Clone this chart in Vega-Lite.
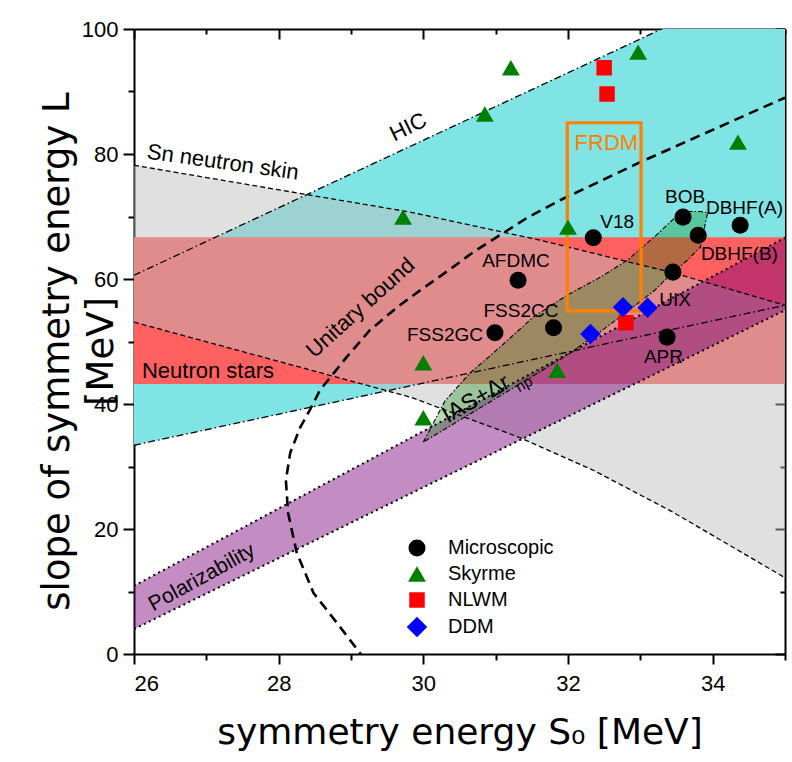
{
  "$schema": "https://vega.github.io/schema/vega-lite/v6.json",
  "width": 651,
  "height": 625,
  "autosize": {"type": "none"},
  "padding": {"left": 134, "top": 29, "right": 7, "bottom": 108},
  "background": "white",
  "config": {
    "view": {"stroke": null},
    "font": "Liberation Sans",
    "axis": {"domainColor": "black", "tickColor": "black", "domainWidth": 2, "tickWidth": 2, "grid": false, "labelFont": "Liberation Sans", "labelFontSize": 22, "labelColor": "black"}
  },
  "datasets": {
    "hic": [{"S": 26, "lo": 33.4, "hi": 60.6}, {"S": 35, "lo": 55.8, "hi": 109.2}],
    "ns": [{"S": 26, "lo": 43.2, "hi": 66.7}, {"S": 35, "lo": 43.2, "hi": 66.7}],
    "sn": [
      {"S": 26, "lo": 53.1, "hi": 78.2}, {"S": 29.82, "lo": 41.1, "hi": 70.7}, {"S": 31.34, "lo": 34.6, "hi": 66.9},
      {"S": 31.62, "lo": 33.2, "hi": 66.2}, {"S": 32.35, "lo": 29.4, "hi": 64.2}, {"S": 33.45, "lo": 22.7, "hi": 61.0},
      {"S": 35, "lo": 12.2, "hi": 55.8}
    ],
    "pol": [{"S": 26, "lo": 4.0, "hi": 10.9}, {"S": 35, "lo": 55.0, "hi": 66.6}],
    "ias": [
      {"S": 30.0, "lo": 33.9, "hi": 33.9}, {"S": 30.3, "lo": 36.0, "hi": 40.5}, {"S": 30.65, "lo": 38.45, "hi": 45.0},
      {"S": 31.06, "lo": 41.3, "hi": 49.1}, {"S": 31.52, "lo": 44.5, "hi": 53.9}, {"S": 32.0, "lo": 47.9, "hi": 57.5},
      {"S": 32.45, "lo": 51.6, "hi": 60.3}, {"S": 32.82, "lo": 54.8, "hi": 63.0}, {"S": 33.2, "lo": 58.2, "hi": 66.8},
      {"S": 33.45, "lo": 61.1, "hi": 69.5}, {"S": 33.55, "lo": 62.0, "hi": 70.6}, {"S": 33.65, "lo": 63.0, "hi": 70.8},
      {"S": 33.83, "lo": 65.1, "hi": 70.8}, {"S": 33.93, "lo": 70.6, "hi": 70.6}
    ],
    "frdm": [{"S1": 31.99, "S2": 33.01, "L1": 54.9, "L2": 85.0}],
    "lines": [
      {"line": "HIC_up", "o": 1, "S": 26, "L": 60.6}, {"line": "HIC_up", "o": 2, "S": 35, "L": 109.2},
      {"line": "HIC_lo", "o": 1, "S": 26, "L": 33.4}, {"line": "HIC_lo", "o": 2, "S": 35, "L": 55.8},
      {"line": "Sn_up", "o": 1, "S": 26, "L": 78.2}, {"line": "Sn_up", "o": 2, "S": 29.82, "L": 70.7}, {"line": "Sn_up", "o": 3, "S": 31.62, "L": 66.2},
      {"line": "Sn_up", "o": 4, "S": 33.45, "L": 61.0}, {"line": "Sn_up", "o": 5, "S": 35, "L": 55.8},
      {"line": "Sn_lo", "o": 1, "S": 26, "L": 53.1}, {"line": "Sn_lo", "o": 2, "S": 29.82, "L": 41.1}, {"line": "Sn_lo", "o": 3, "S": 31.34, "L": 34.6},
      {"line": "Sn_lo", "o": 4, "S": 32.35, "L": 29.4}, {"line": "Sn_lo", "o": 5, "S": 33.45, "L": 22.7}, {"line": "Sn_lo", "o": 6, "S": 35, "L": 12.2},
      {"line": "Pol_up", "o": 1, "S": 26, "L": 10.9}, {"line": "Pol_up", "o": 2, "S": 35, "L": 66.6},
      {"line": "Pol_lo", "o": 1, "S": 26, "L": 4.0}, {"line": "Pol_lo", "o": 2, "S": 35, "L": 55.0},
      {"line": "Unitary", "o": 1, "S": 29.2, "L": -1}, {"line": "Unitary", "o": 2, "S": 28.85, "L": 4.3}, {"line": "Unitary", "o": 3, "S": 28.48, "L": 9.8},
      {"line": "Unitary", "o": 4, "S": 28.25, "L": 16.2}, {"line": "Unitary", "o": 5, "S": 28.13, "L": 22.6}, {"line": "Unitary", "o": 6, "S": 28.1, "L": 27.8},
      {"line": "Unitary", "o": 7, "S": 28.16, "L": 32.2}, {"line": "Unitary", "o": 8, "S": 28.3, "L": 36.3}, {"line": "Unitary", "o": 9, "S": 28.43, "L": 39.0},
      {"line": "Unitary", "o": 10, "S": 28.57, "L": 42.2}, {"line": "Unitary", "o": 11, "S": 28.71, "L": 44.2}, {"line": "Unitary", "o": 12, "S": 28.94, "L": 47.5},
      {"line": "Unitary", "o": 13, "S": 29.26, "L": 51.8}, {"line": "Unitary", "o": 14, "S": 29.64, "L": 55.5}, {"line": "Unitary", "o": 15, "S": 29.91, "L": 57.8},
      {"line": "Unitary", "o": 16, "S": 30.41, "L": 61.9}, {"line": "Unitary", "o": 17, "S": 30.69, "L": 64.3}, {"line": "Unitary", "o": 18, "S": 31.45, "L": 69.9},
      {"line": "Unitary", "o": 19, "S": 31.89, "L": 72.6}, {"line": "Unitary", "o": 20, "S": 33.0, "L": 78.7}, {"line": "Unitary", "o": 21, "S": 34.84, "L": 88.2},
      {"line": "Unitary", "o": 22, "S": 35.0, "L": 89.0},
      {"line": "IAS", "o": 1, "S": 30.0, "L": 33.9}, {"line": "IAS", "o": 2, "S": 30.3, "L": 40.5}, {"line": "IAS", "o": 3, "S": 30.65, "L": 45.0},
      {"line": "IAS", "o": 4, "S": 31.06, "L": 49.1}, {"line": "IAS", "o": 5, "S": 31.52, "L": 53.9}, {"line": "IAS", "o": 6, "S": 32.0, "L": 57.5},
      {"line": "IAS", "o": 7, "S": 32.45, "L": 60.3}, {"line": "IAS", "o": 8, "S": 32.82, "L": 63.0}, {"line": "IAS", "o": 9, "S": 33.2, "L": 66.8},
      {"line": "IAS", "o": 10, "S": 33.45, "L": 69.5}, {"line": "IAS", "o": 11, "S": 33.55, "L": 70.6}, {"line": "IAS", "o": 12, "S": 33.65, "L": 70.8},
      {"line": "IAS", "o": 13, "S": 33.83, "L": 70.8}, {"line": "IAS", "o": 14, "S": 33.93, "L": 70.6}, {"line": "IAS", "o": 15, "S": 33.83, "L": 65.1},
      {"line": "IAS", "o": 16, "S": 33.65, "L": 63.0}, {"line": "IAS", "o": 17, "S": 33.55, "L": 62.0}, {"line": "IAS", "o": 18, "S": 33.45, "L": 61.1},
      {"line": "IAS", "o": 19, "S": 33.2, "L": 58.2}, {"line": "IAS", "o": 20, "S": 32.82, "L": 54.8}, {"line": "IAS", "o": 21, "S": 32.45, "L": 51.6},
      {"line": "IAS", "o": 22, "S": 32.0, "L": 47.9}, {"line": "IAS", "o": 23, "S": 31.52, "L": 44.5}, {"line": "IAS", "o": 24, "S": 31.06, "L": 41.3},
      {"line": "IAS", "o": 25, "S": 30.65, "L": 38.45}, {"line": "IAS", "o": 26, "S": 30.3, "L": 36.0}, {"line": "IAS", "o": 27, "S": 30.0, "L": 33.9}
    ],
    "pts": [
      {"model": "Microscopic", "S": 33.59, "L": 69.9}, {"model": "Microscopic", "S": 33.8, "L": 67.0}, {"model": "Microscopic", "S": 34.38, "L": 68.6},
      {"model": "Microscopic", "S": 32.35, "L": 66.6}, {"model": "Microscopic", "S": 31.31, "L": 59.8}, {"model": "Microscopic", "S": 33.45, "L": 61.1},
      {"model": "Microscopic", "S": 31.8, "L": 52.2}, {"model": "Microscopic", "S": 30.99, "L": 51.4}, {"model": "Microscopic", "S": 33.37, "L": 50.7},
      {"model": "Skyrme", "S": 29.72, "L": 69.9}, {"model": "Skyrme", "S": 30.85, "L": 86.4}, {"model": "Skyrme", "S": 31.21, "L": 93.8},
      {"model": "Skyrme", "S": 32.97, "L": 96.3}, {"model": "Skyrme", "S": 34.35, "L": 81.9}, {"model": "Skyrme", "S": 32.0, "L": 68.3},
      {"model": "Skyrme", "S": 30.0, "L": 46.6}, {"model": "Skyrme", "S": 31.85, "L": 45.4}, {"model": "Skyrme", "S": 30.0, "L": 37.8},
      {"model": "NLWM", "S": 32.5, "L": 93.8}, {"model": "NLWM", "S": 32.54, "L": 89.6}, {"model": "NLWM", "S": 32.8, "L": 53.0},
      {"model": "DDM", "S": 32.31, "L": 51.2}, {"model": "DDM", "S": 32.76, "L": 55.5}, {"model": "DDM", "S": 33.1, "L": 55.4}
    ],
    "plabels": [
      {"t": "BOB", "S": 33.62, "L": 73.1}, {"t": "DBHF(A)", "S": 34.44, "L": 71.4}, {"t": "DBHF(B)", "S": 34.37, "L": 64.0},
      {"t": "V18", "S": 32.68, "L": 69.1}, {"t": "AFDMC", "S": 31.28, "L": 62.9}, {"t": "UIX", "S": 33.48, "L": 56.6},
      {"t": "FSS2CC", "S": 31.35, "L": 54.9}, {"t": "FSS2GC", "S": 30.3, "L": 51.0}, {"t": "APR", "S": 33.32, "L": 47.5}
    ]
  },
  "resolve": {"axis": {"x": "independent", "y": "independent"}},
  "layer": [
    {
      "data": {"name": "hic"},
      "mark": {"type": "area", "color": "#80E4E4", "clip": true},
      "encoding": {
        "x": {"field": "S", "type": "quantitative", "scale": {"domain": [26, 35], "nice": false, "zero": false},
          "axis": {"orient": "bottom", "values": [26, 28, 30, 32, 34], "tickSize": 10, "labelPadding": 9, "title": "symmetry energy S₀ [MeV]",
            "titleFont": "DejaVu Sans", "titleFontSize": 36, "titleFontWeight": "normal", "titleColor": "black", "titleX": 325.5, "titleY": 89, "titleBaseline": "alphabetic", "titleAlign": "center"}},
        "y": {"field": "lo", "type": "quantitative", "scale": {"domain": [0, 100], "nice": false, "zero": false},
          "axis": {"orient": "left", "values": [0, 20, 40, 60, 80, 100], "tickSize": 11, "labelPadding": 5, "title": ["slope of symmetry energy  L", "[MeV]"],
            "titleFont": "DejaVu Sans", "titleFontSize": 37, "titleFontWeight": "normal", "titleColor": "black", "titleAngle": 270, "titleX": -66, "titleY": 322,
            "titleBaseline": "alphabetic", "titleAlign": "center", "titleLineHeight": 44}},
        "y2": {"field": "hi"}
      }
    },
    {
      "data": {"name": "ns"},
      "mark": {"type": "area", "color": "#FF6060", "clip": true},
      "encoding": {
        "x": {"field": "S", "type": "quantitative", "axis": {"orient": "bottom", "values": [27, 29, 31, 33, 35], "tickSize": 6, "labels": false, "domain": false, "title": null}},
        "y": {"field": "lo", "type": "quantitative", "axis": {"orient": "left", "values": [10, 30, 50, 70, 90], "tickSize": 6, "labels": false, "domain": false, "title": null}},
        "y2": {"field": "hi"}
      }
    },
    {
      "data": {"name": "sn"},
      "mark": {"type": "area", "color": "#BEBEBE", "opacity": 0.47, "clip": true},
      "encoding": {
        "x": {"field": "S", "type": "quantitative", "axis": {"orient": "top", "values": [26, 28, 30, 32, 34], "tickSize": -10, "labels": false, "domain": true, "title": null}},
        "y": {"field": "lo", "type": "quantitative", "axis": {"orient": "right", "values": [0, 20, 40, 60, 80, 100], "tickSize": -10, "labels": false, "domain": true, "title": null}},
        "y2": {"field": "hi"}
      }
    },
    {
      "data": {"name": "pol"},
      "mark": {"type": "area", "color": "#7B007B", "opacity": 0.45, "clip": true},
      "encoding": {
        "x": {"field": "S", "type": "quantitative", "axis": {"orient": "top", "values": [27, 29, 31, 33, 35], "tickSize": -5, "labels": false, "domain": false, "title": null}},
        "y": {"field": "lo", "type": "quantitative", "axis": {"orient": "right", "values": [10, 30, 50, 70, 90], "tickSize": -5, "labels": false, "domain": false, "title": null}},
        "y2": {"field": "hi"}
      }
    },
    {
      "data": {"name": "ias"},
      "mark": {"type": "area", "color": "#008000", "opacity": 0.3, "clip": true},
      "encoding": {
        "x": {"field": "S", "type": "quantitative", "axis": null},
        "y": {"field": "lo", "type": "quantitative", "axis": null},
        "y2": {"field": "hi"}
      }
    },
    {
      "data": {"name": "lines"},
      "transform": [{"filter": {"field": "line", "oneOf": ["HIC_up", "HIC_lo"]}}],
      "mark": {"type": "line", "color": "black", "strokeWidth": 1.3, "strokeDash": [7, 3, 1.5, 3], "clip": true},
      "encoding": {
        "x": {"field": "S", "type": "quantitative", "axis": null},
        "y": {"field": "L", "type": "quantitative", "axis": null},
        "detail": {"field": "line"},
        "order": {"field": "o"}
      }
    },
    {
      "data": {"name": "lines"},
      "transform": [{"filter": {"field": "line", "oneOf": ["Sn_up", "Sn_lo"]}}],
      "mark": {"type": "line", "color": "black", "strokeWidth": 1.3, "strokeDash": [5, 3], "clip": true},
      "encoding": {
        "x": {"field": "S", "type": "quantitative", "axis": null},
        "y": {"field": "L", "type": "quantitative", "axis": null},
        "detail": {"field": "line"},
        "order": {"field": "o"}
      }
    },
    {
      "data": {"name": "lines"},
      "transform": [{"filter": {"field": "line", "oneOf": ["Pol_up", "Pol_lo"]}}],
      "mark": {"type": "line", "color": "black", "strokeWidth": 2, "strokeDash": [2, 3.5], "clip": true},
      "encoding": {
        "x": {"field": "S", "type": "quantitative", "axis": null},
        "y": {"field": "L", "type": "quantitative", "axis": null},
        "detail": {"field": "line"},
        "order": {"field": "o"}
      }
    },
    {
      "data": {"name": "lines"},
      "transform": [{"filter": {"field": "line", "oneOf": ["IAS"]}}],
      "mark": {"type": "line", "color": "black", "strokeWidth": 1.1, "strokeDash": [5, 2, 1.5, 2], "clip": true},
      "encoding": {
        "x": {"field": "S", "type": "quantitative", "axis": null},
        "y": {"field": "L", "type": "quantitative", "axis": null},
        "detail": {"field": "line"},
        "order": {"field": "o"}
      }
    },
    {
      "data": {"name": "lines"},
      "transform": [{"filter": {"field": "line", "oneOf": ["Unitary"]}}],
      "mark": {"type": "line", "color": "black", "strokeWidth": 2.6, "strokeDash": [10, 6], "clip": true},
      "encoding": {
        "x": {"field": "S", "type": "quantitative", "axis": null},
        "y": {"field": "L", "type": "quantitative", "axis": null},
        "detail": {"field": "line"},
        "order": {"field": "o"}
      }
    },
    {
      "data": {"name": "frdm"},
      "mark": {"type": "rect", "filled": false, "stroke": "#FF8000", "strokeWidth": 3.2},
      "encoding": {
        "x": {"field": "S1", "type": "quantitative", "axis": null},
        "x2": {"field": "S2"},
        "y": {"field": "L1", "type": "quantitative", "axis": null},
        "y2": {"field": "L2"}
      }
    },
    {
      "data": {"name": "pts"},
      "mark": {"type": "point", "filled": true, "opacity": 1, "strokeWidth": 0},
      "encoding": {
        "x": {"field": "S", "type": "quantitative", "axis": null},
        "y": {"field": "L", "type": "quantitative", "axis": null},
        "color": {"field": "model", "type": "nominal",
          "scale": {"domain": ["Microscopic", "Skyrme", "NLWM", "DDM"], "range": ["#000000", "#008000", "#FF0000", "#0000FF"]},
          "legend": {"orient": "none", "legendX": 272, "legendY": 509, "title": null, "labelFont": "Liberation Sans", "labelFontSize": 20, "labelColor": "black", "labelOffset": 20, "rowPadding": 6, "padding": 0}},
        "shape": {"field": "model", "type": "nominal",
          "scale": {"domain": ["Microscopic", "Skyrme", "NLWM", "DDM"], "range": ["circle", "triangle-up", "square", "diamond"]},
          "legend": {"orient": "none", "legendX": 272, "legendY": 509, "title": null, "labelFont": "Liberation Sans", "labelFontSize": 20, "labelColor": "black", "labelOffset": 20, "rowPadding": 6, "padding": 0}},
        "size": {"field": "model", "type": "nominal",
          "scale": {"type": "ordinal", "domain": ["Microscopic", "Skyrme", "NLWM", "DDM"], "range": [290, 320, 240, 420]},
          "legend": {"orient": "none", "legendX": 272, "legendY": 509, "title": null, "labelFont": "Liberation Sans", "labelFontSize": 20, "labelColor": "black", "labelOffset": 20, "rowPadding": 6, "padding": 0}}
      }
    },
    {
      "data": {"name": "plabels"},
      "mark": {"type": "text", "font": "Liberation Sans", "fontSize": 19, "color": "black", "align": "center", "baseline": "middle"},
      "encoding": {
        "x": {"field": "S", "type": "quantitative", "axis": null},
        "y": {"field": "L", "type": "quantitative", "axis": null},
        "text": {"field": "t"}
      }
    },
    {
      "data": {"values": [{"t": "Sn neutron skin", "S": 27.23, "L": 78.7}]},
      "mark": {"type": "text", "font": "Liberation Sans", "fontSize": 22, "color": "black", "align": "center", "baseline": "middle", "angle": 8},
      "encoding": {"x": {"field": "S", "type": "quantitative", "axis": null}, "y": {"field": "L", "type": "quantitative", "axis": null}, "text": {"field": "t"}}
    },
    {
      "data": {"values": [{"t": "Neutron stars", "S": 26.11, "L": 44.2}]},
      "mark": {"type": "text", "font": "Liberation Sans", "fontSize": 22, "color": "black", "align": "left", "baseline": "alphabetic"},
      "encoding": {"x": {"field": "S", "type": "quantitative", "axis": null}, "y": {"field": "L", "type": "quantitative", "axis": null}, "text": {"field": "t"}}
    },
    {
      "data": {"values": [{"t": "HIC", "S": 29.79, "L": 84.3}]},
      "mark": {"type": "text", "font": "Liberation Sans", "fontSize": 22, "color": "black", "align": "center", "baseline": "middle", "angle": 334},
      "encoding": {"x": {"field": "S", "type": "quantitative", "axis": null}, "y": {"field": "L", "type": "quantitative", "axis": null}, "text": {"field": "t"}}
    },
    {
      "data": {"values": [{"t": "FRDM", "S": 32.53, "L": 81.8}]},
      "mark": {"type": "text", "font": "Liberation Sans", "fontSize": 22, "color": "#FF8000", "align": "center", "baseline": "middle"},
      "encoding": {"x": {"field": "S", "type": "quantitative", "axis": null}, "y": {"field": "L", "type": "quantitative", "axis": null}, "text": {"field": "t"}}
    },
    {
      "data": {"values": [{"t": "Unitary bound", "S": 29.13, "L": 55.4}]},
      "mark": {"type": "text", "font": "Liberation Sans", "fontSize": 22, "color": "black", "align": "center", "baseline": "middle", "angle": 318},
      "encoding": {"x": {"field": "S", "type": "quantitative", "axis": null}, "y": {"field": "L", "type": "quantitative", "axis": null}, "text": {"field": "t"}}
    },
    {
      "data": {"values": [{"t": "Polarizability", "S": 26.94, "L": 12.2}]},
      "mark": {"type": "text", "font": "Liberation Sans", "fontSize": 21, "color": "black", "align": "center", "baseline": "middle", "angle": 331},
      "encoding": {"x": {"field": "S", "type": "quantitative", "axis": null}, "y": {"field": "L", "type": "quantitative", "axis": null}, "text": {"field": "t"}}
    },
    {
      "data": {"values": [{"t": "IAS+Δr", "S": 30.73, "L": 40.8}]},
      "mark": {"type": "text", "font": "Liberation Sans", "fontSize": 23, "color": "black", "align": "center", "baseline": "middle", "angle": 330},
      "encoding": {"x": {"field": "S", "type": "quantitative", "axis": null}, "y": {"field": "L", "type": "quantitative", "axis": null}, "text": {"field": "t"}}
    },
    {
      "data": {"values": [{"t": "np", "S": 31.39, "L": 43.2}]},
      "mark": {"type": "text", "font": "Liberation Sans", "fontSize": 15, "color": "black", "align": "center", "baseline": "middle", "angle": 330},
      "encoding": {"x": {"field": "S", "type": "quantitative", "axis": null}, "y": {"field": "L", "type": "quantitative", "axis": null}, "text": {"field": "t"}}
    }
  ]
}
